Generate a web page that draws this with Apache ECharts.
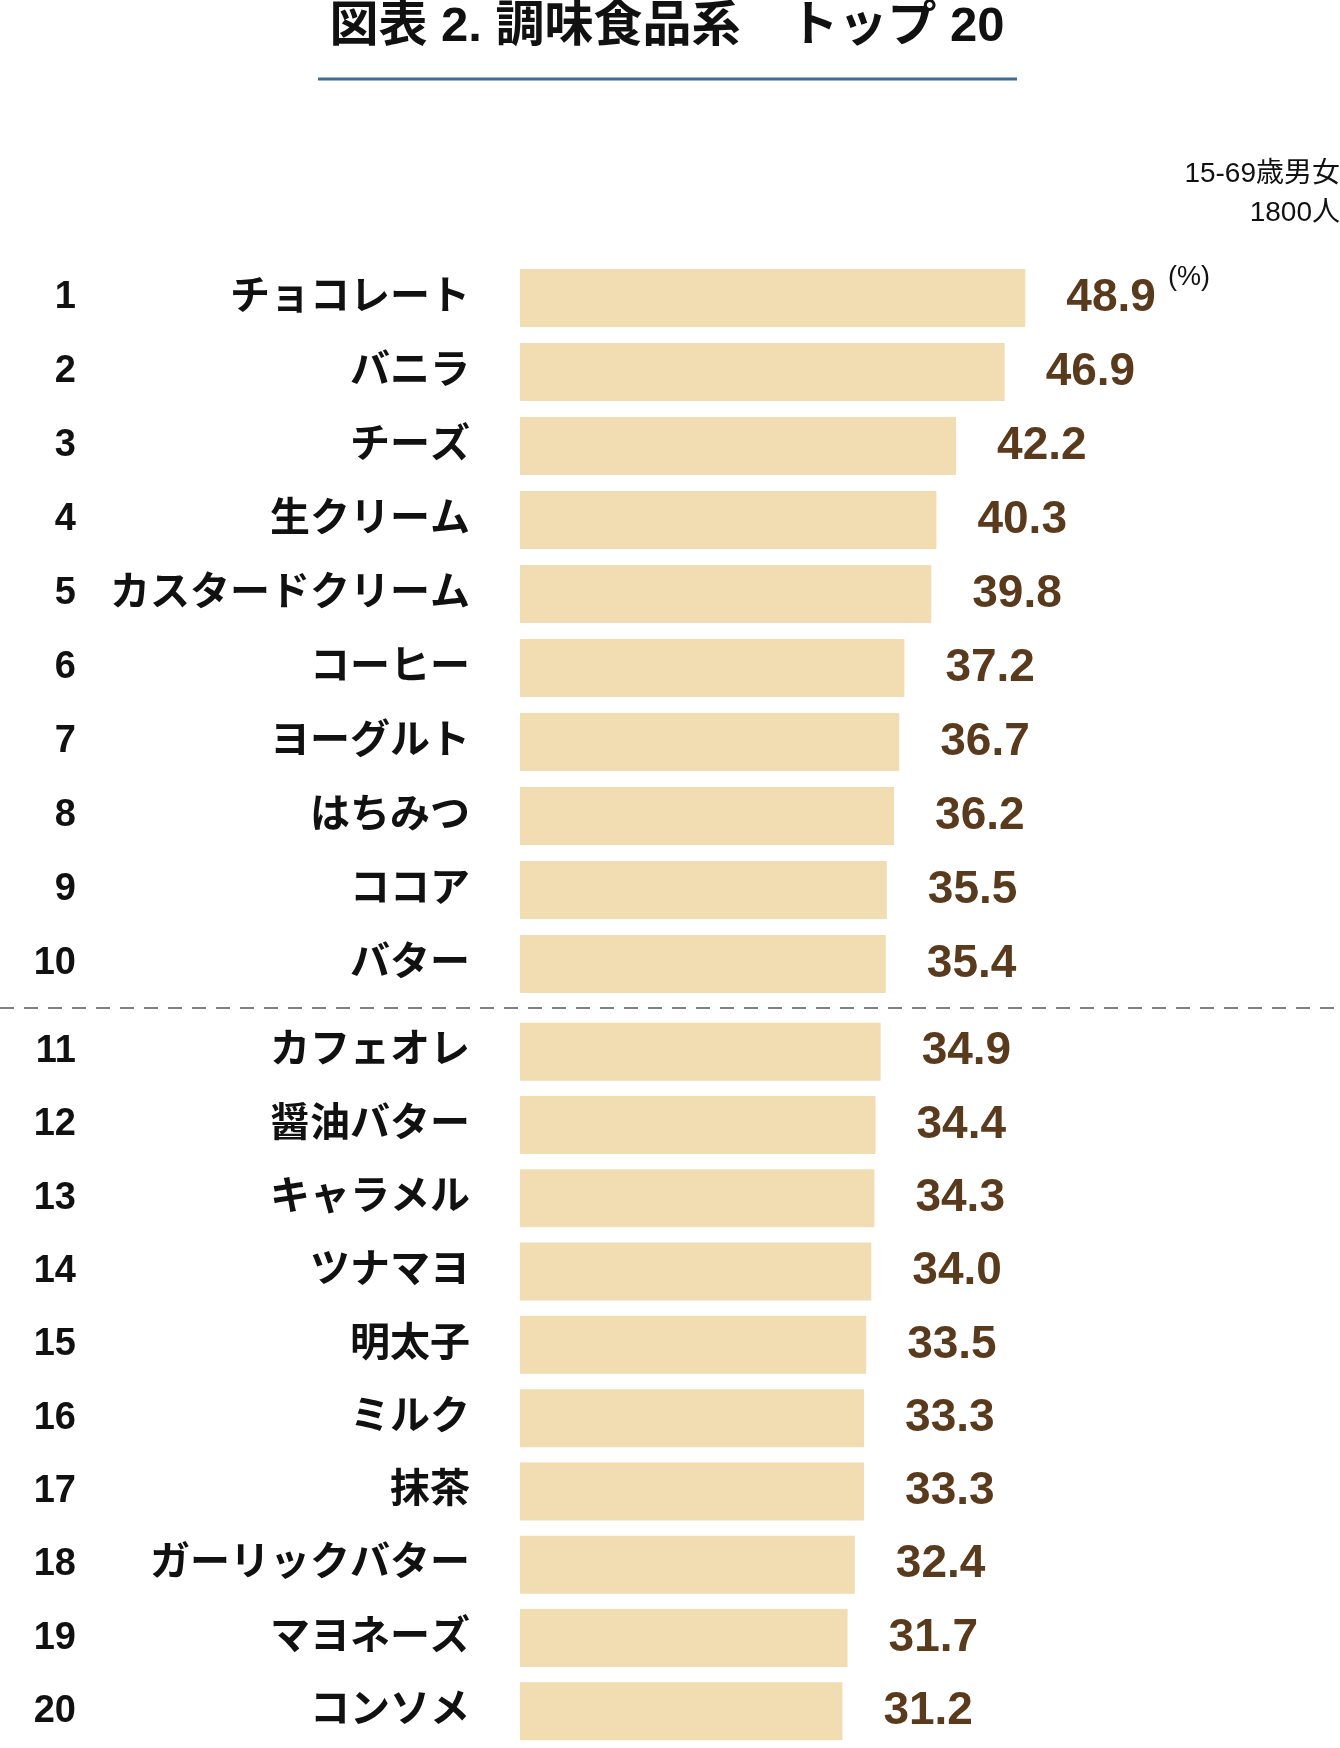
<!DOCTYPE html>
<html>
<head>
<meta charset="utf-8">
<script src="https://cdn.jsdelivr.net/npm/echarts@6/dist/echarts.min.js"></script>
<style>
html,body{margin:0;padding:0;background:#fff;}
#main{width:1340px;height:1748px;}
</style>
</head>
<body>
<div id="main"></div>
<script>
// ranking data (values in %)
var ranks = ['1','2','3','4','5','6','7','8','9','10','11','12','13','14','15','16','17','18','19','20'];
var names = ['チョコレート','バニラ','チーズ','生クリーム','カスタードクリーム','コーヒー','ヨーグルト','はちみつ','ココア','バター',
             'カフェオレ','醤油バター','キャラメル','ツナマヨ','明太子','ミルク','抹茶','ガーリックバター','マヨネーズ','コンソメ'];
var values = [48.9,46.9,42.2,40.3,39.8,37.2,36.7,36.2,35.5,35.4,
              34.9,34.4,34.3,34.0,33.5,33.3,33.3,32.4,31.7,31.2];

var barColor = '#f2dcb2';
var valueColor = '#5a3a1c';
var latin = "'Liberation Sans', 'Noto Sans CJK JP', sans-serif";
var cjk = "'Noto Sans CJK JP', sans-serif";

var myChart = echarts.init(document.getElementById('main'));

function xAx(i){
  return {gridIndex:i, type:'value', min:0, max:60, show:false};
}
function nameAx(i, data){
  return {
    gridIndex:i, type:'category', inverse:true, data:data,
    axisLine:{show:false}, axisTick:{show:false},
    // small lineHeight + bottom align lifts the CJK glyphs a few px
    axisLabel:{margin:50, color:'#111', fontFamily:cjk, fontWeight:'bold', fontSize:40,
      verticalAlign:'bottom', lineHeight:9}
  };
}
function rankAx(i, data){
  return {
    gridIndex:i, type:'category', inverse:true, data:data, position:'left', offset:444,
    axisLine:{show:false}, axisTick:{show:false},
    axisLabel:{margin:0, color:'#111', fontFamily:latin, fontWeight:'bold', fontSize:38}
  };
}
function barSeries(i, data){
  return {
    type:'bar', xAxisIndex:i, yAxisIndex:i*2, data:data, barWidth:58,
    itemStyle:{color:barColor},
    label:{
      show:true, position:'right', distance:41,
      fontFamily:latin, fontWeight:'bold', fontSize:46, color:valueColor,
      formatter:function(p){ return p.value.toFixed(1); }
    }
  };
}

var option = {
  animation:false,
  backgroundColor:'#fff',
  grid:[
    {left:520, width:620, top:261, height:740},
    {left:520, width:620, top:1015, height:740}
  ],
  xAxis:[xAx(0), xAx(1)],
  yAxis:[
    nameAx(0, names.slice(0,10)), rankAx(0, ranks.slice(0,10)),
    nameAx(1, names.slice(10)), rankAx(1, ranks.slice(10))
  ],
  series:[barSeries(0, values.slice(0,10)), barSeries(1, values.slice(10))],
  graphic:[
    {type:'text', x:667, y:27, style:{text:'図表 2. 調味食品系　トップ 20', align:'center', verticalAlign:'middle',
      fill:'#111', font:"bold 49px 'Liberation Sans', 'Noto Sans CJK JP', sans-serif"}},
    {type:'line', shape:{x1:318, y1:79, x2:1017, y2:79}, style:{stroke:'#3d6b9c', lineWidth:3}},
    {type:'text', x:1340, y:174, style:{text:'15-69歳男女', align:'right', verticalAlign:'middle',
      fill:'#111', font:"28px 'Liberation Sans', 'Noto Sans CJK JP', sans-serif"}},
    {type:'text', x:1340, y:213, style:{text:'1800人', align:'right', verticalAlign:'middle',
      fill:'#111', font:"28px 'Liberation Sans', 'Noto Sans CJK JP', sans-serif"}},
    {type:'text', x:1168, y:278, style:{text:'(%)', align:'left', verticalAlign:'middle',
      fill:'#111', font:"27px 'Liberation Sans', sans-serif"}},
    {type:'line', shape:{x1:0, y1:1008, x2:1340, y2:1008}, style:{stroke:'#555', lineWidth:1.5, lineDash:[14,10]}}
  ]
};
myChart.setOption(option);
</script>
</body>
</html>
